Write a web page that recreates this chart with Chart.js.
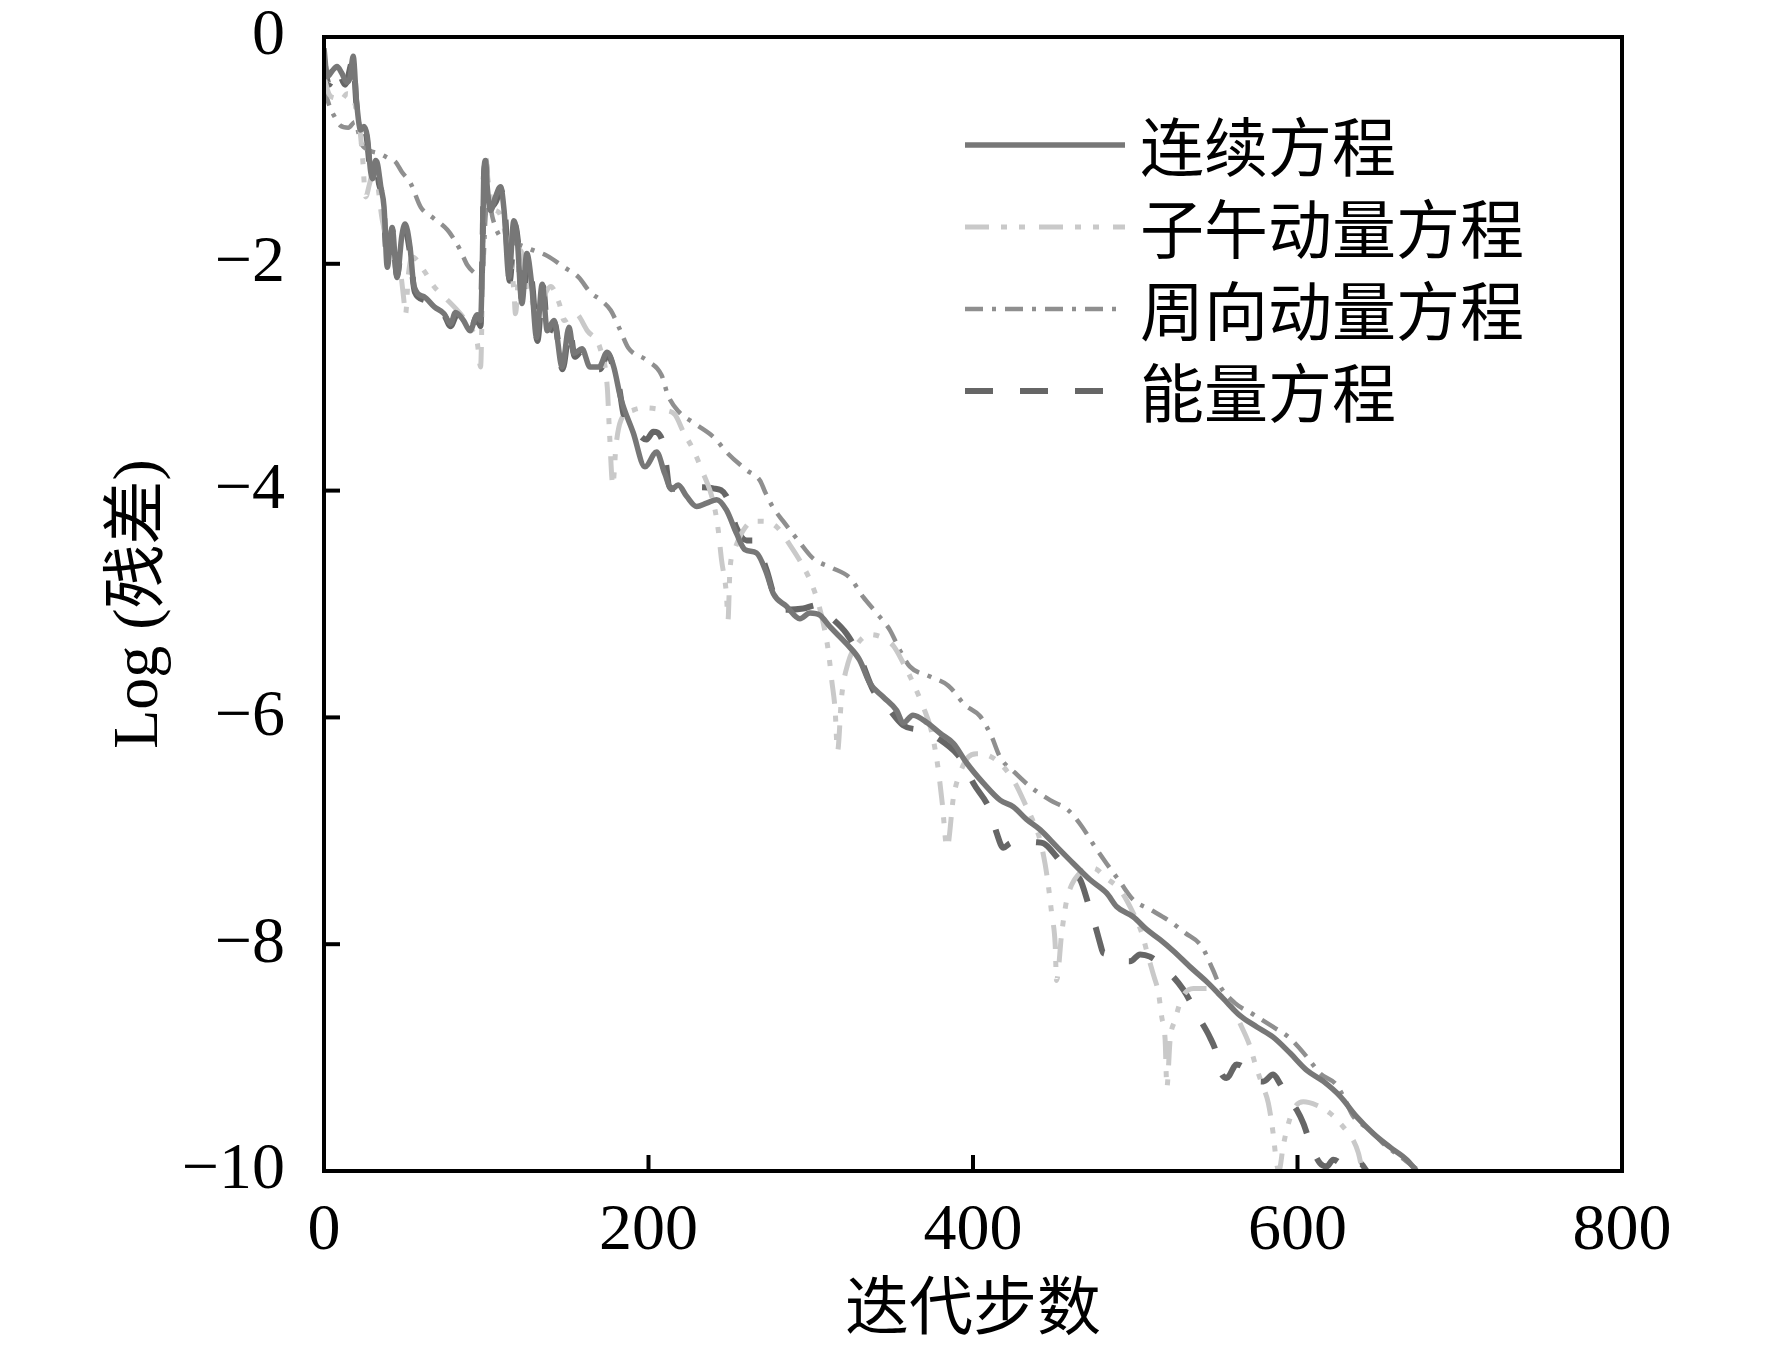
<!DOCTYPE html>
<html>
<head>
<meta charset="utf-8">
<script src="https://cdn.jsdelivr.net/npm/chart.js@4.4.1/dist/chart.umd.min.js"></script>
<style>
  html, body { margin: 0; padding: 0; background: #fff; }
</style>
</head>
<body>
<canvas id="myChart" width="1772" height="1347"></canvas>
<script>
// series names
const seriesNames = ['连续方程', '子午动量方程', '周向动量方程', '能量方程'];

// [iteration, log residual]
const contPts = [[0,-0.1],[2,-0.35],[5,-0.3],[8,-0.26],[11,-0.32],[14,-0.4],[16,-0.36],[18,-0.17],[20,-0.56],[22.6,-0.82],[24.6,-0.79],[26.7,-0.88],[28.7,-1.18],[30,-1.25],[31.8,-1.09],[33,-1.12],[35,-1.32],[37,-1.5],[39,-2.03],[42,-1.68],[45,-2.12],[48,-1.75],[50,-1.65],[53,-1.85],[55.5,-2.2],[61.6,-2.29],[68,-2.38],[74,-2.44],[78,-2.53],[81,-2.43],[86,-2.5],[90,-2.59],[94.5,-2.45],[96.5,-2.5],[97.5,-2.06],[98.6,-1.18],[99.6,-1.09],[100.6,-1.32],[102.7,-1.53],[105.7,-1.41],[108.8,-1.32],[111,-1.53],[114,-2.12],[117,-1.62],[119,-1.76],[122,-2.35],[125,-1.91],[128,-2.18],[131,-2.65],[134.5,-2.18],[137.6,-2.59],[141.7,-2.5],[146.8,-2.91],[151,-2.56],[154,-2.79],[159,-2.75],[164,-2.91],[169.5,-2.91],[174.5,-2.78],[178.6,-2.91],[182.8,-3.18],[190.6,-3.49],[197.8,-3.79],[205,-3.66],[210,-3.85],[214.3,-3.99],[218.3,-3.95],[223.5,-4.05],[229.7,-4.14],[235.8,-4.11],[242,-4.08],[248,-4.17],[254.3,-4.38],[259.4,-4.52],[266.6,-4.55],[272.8,-4.73],[277,-4.91],[285,-5.02],[293.3,-5.13],[299.5,-5.08],[305.7,-5.1],[311.8,-5.2],[322,-5.35],[330,-5.49],[336.5,-5.7],[344.7,-5.82],[353,-5.94],[357,-6.05],[363,-5.98],[372,-6.05],[379.7,-6.14],[388,-6.23],[396,-6.4],[406.4,-6.58],[416.7,-6.73],[425,-6.79],[433,-6.9],[441.3,-6.99],[451.6,-7.14],[462,-7.29],[472,-7.43],[482.4,-7.55],[488.6,-7.67],[498.9,-7.76],[507,-7.87],[515.3,-7.96],[523.5,-8.06],[533.8,-8.2],[544,-8.33],[554.3,-8.48],[564.6,-8.63],[575,-8.73],[585,-8.82],[595.4,-8.96],[605.6,-9.11],[616,-9.21],[626.2,-9.34],[636.4,-9.52],[646.7,-9.67],[657,-9.79],[667.3,-9.9],[673.4,-10]];

const merPts = [[0,-0.35],[3,-0.5],[6.8,-0.54],[10,-0.56],[14.4,-0.5],[18,-0.55],[21.6,-0.76],[23.6,-1.03],[25.7,-1.41],[28,-1.3],[31,-1.15],[36,-1.62],[41,-1.88],[47,-2.06],[49,-2.29],[50.3,-2.44],[52,-2.1],[54.4,-1.94],[61.6,-2.06],[67.8,-2.2],[74,-2.29],[84,-2.44],[90,-2.56],[94.5,-2.7],[96.5,-2.91],[98.6,-1.3],[99.6,-1.03],[101,-1.25],[104,-1.5],[108,-1.55],[112,-1.75],[115,-2.0],[117,-2.23],[118,-2.44],[121,-1.88],[126,-2.2],[131,-2.41],[135,-2.3],[139.7,-2.2],[145,-2.35],[148,-2.5],[155,-2.44],[162.3,-2.59],[170.5,-2.76],[174.6,-3.09],[176,-3.5],[178,-3.95],[180,-3.6],[183,-3.38],[190.6,-3.29],[196.8,-3.27],[209,-3.29],[216.3,-3.33],[221.4,-3.48],[227.6,-3.64],[233.8,-3.85],[237.9,-4.0],[241,-4.17],[243,-4.35],[245,-4.61],[248,-4.91],[249,-5.14],[250.2,-4.7],[253.3,-4.51],[258.4,-4.35],[264.6,-4.27],[270.7,-4.27],[279,-4.32],[287.2,-4.48],[295.4,-4.67],[300.5,-4.82],[304.6,-4.99],[307.7,-5.17],[310.8,-5.41],[312.9,-5.67],[315,-5.93],[316.5,-6.3],[319,-5.82],[323,-5.52],[328.3,-5.36],[336.5,-5.27],[344.7,-5.3],[351,-5.37],[357,-5.52],[363.2,-5.7],[369.4,-5.91],[374,-6.1],[378,-6.4],[381,-6.75],[384,-7.15],[388,-6.7],[392,-6.49],[397,-6.35],[402.3,-6.32],[408.5,-6.33],[417.7,-6.42],[426,-6.58],[433,-6.79],[437.2,-6.92],[441.3,-7.08],[444.4,-7.29],[446.5,-7.49],[448.5,-7.73],[450.6,-7.99],[451.5,-8.32],[454.7,-7.9],[457.8,-7.61],[463,-7.42],[468,-7.35],[474.2,-7.33],[482.4,-7.42],[490.6,-7.52],[498.9,-7.73],[504,-7.9],[508,-8.11],[511,-8.26],[514.3,-8.43],[516.3,-8.64],[518.4,-8.84],[519.5,-9.26],[521.5,-8.84],[524.5,-8.67],[528.6,-8.48],[535.8,-8.39],[544,-8.39],[552.2,-8.45],[559.4,-8.55],[565.6,-8.73],[570.7,-8.9],[573.8,-9.05],[578,-9.23],[582,-9.4],[585,-9.67],[587.1,-9.93],[588.5,-10],[591.2,-9.78],[593.3,-9.64],[597.4,-9.46],[603.6,-9.39],[611.8,-9.42],[620,-9.49],[628.2,-9.61],[634.4,-9.73],[637.5,-9.84],[640,-10]];

const cirPts = [[0,-0.45],[3.7,-0.62],[6.8,-0.71],[10,-0.78],[15,-0.8],[19,-0.75],[23,-0.94],[28,-1.0],[34.5,-1.03],[40,-1.07],[44,-1.1],[48,-1.19],[53.4,-1.29],[59.6,-1.5],[66.8,-1.59],[76,-1.7],[80,-1.78],[84,-1.88],[88.3,-2.01],[94.5,-2.1],[97.6,-2.12],[99.5,-1.6],[101,-1.4],[104,-1.6],[108,-1.75],[113,-1.8],[118,-1.82],[127,-1.87],[137.6,-1.93],[148,-2.03],[157,-2.12],[164,-2.25],[170.5,-2.32],[176.7,-2.41],[182.4,-2.58],[187.5,-2.74],[198.8,-2.85],[208,-2.98],[212,-3.16],[218.4,-3.3],[228.6,-3.41],[241,-3.54],[248,-3.66],[260.5,-3.82],[268.7,-3.91],[271.8,-4.01],[276,-4.13],[283,-4.27],[292.3,-4.44],[301.6,-4.6],[312.9,-4.68],[324.2,-4.77],[332.4,-4.94],[340.6,-5.08],[348.8,-5.23],[355,-5.41],[361,-5.55],[373.5,-5.64],[384.8,-5.72],[395,-5.89],[404.4,-5.99],[411.5,-6.17],[416.7,-6.35],[426,-6.49],[435.2,-6.61],[447.5,-6.73],[458.8,-6.82],[467,-6.96],[474.2,-7.12],[482.4,-7.29],[490.6,-7.45],[498.9,-7.61],[510,-7.7],[521.5,-7.8],[530.7,-7.9],[541,-8.02],[548,-8.23],[552.3,-8.37],[561.5,-8.52],[572.8,-8.62],[585,-8.73],[595.4,-8.83],[605.6,-8.99],[614,-9.14],[624,-9.24],[629.2,-9.37],[634.4,-9.52],[644.7,-9.64],[653,-9.76],[663,-9.87],[671.4,-9.96],[675,-10]];

const engPts = [[0,-0.2],[3,-0.42],[8,-0.28],[13,-0.42],[18,-0.2],[20,-0.6],[23,-0.8],[26,-0.86],[29,-1.2],[31.5,-1.1],[34,-1.3],[36.5,-1.45],[39,-2.0],[42,-1.7],[45,-2.1],[48,-1.8],[50,-1.7],[53,-1.9],[56,-2.25],[62,-2.32],[68,-2.4],[74,-2.45],[78,-2.55],[82,-2.45],[86,-2.52],[90,-2.6],[94,-2.47],[96.5,-2.55],[97.5,-2.0],[98.6,-1.22],[99.8,-1.12],[101,-1.35],[103,-1.5],[106,-1.45],[109,-1.35],[111.5,-1.55],[114.5,-2.15],[117.5,-1.65],[119.5,-1.8],[122.5,-2.38],[125.5,-1.95],[128.5,-2.2],[131.5,-2.68],[135,-2.2],[138,-2.62],[142,-2.52],[147,-2.93],[151.5,-2.58],[154.5,-2.82],[159,-2.77],[164.5,-2.93],[170,-2.93],[175,-2.8],[179,-2.95],[182,-3.1],[184.5,-3.32],[191,-3.45],[198.8,-3.55],[203,-3.48],[209,-3.58],[213.2,-3.97],[220,-3.99],[230,-3.97],[240,-3.98],[248,-4.05],[254,-4.32],[260.5,-4.44],[264.6,-4.44],[272.8,-4.7],[277,-4.91],[281,-5.05],[285,-5.05],[295.4,-5.04],[303.6,-5.01],[311.8,-5.11],[322,-5.26],[330,-5.46],[338.5,-5.76],[346.8,-5.9],[357,-6.07],[370,-6.12],[380,-6.2],[390,-6.32],[394,-6.4],[400.2,-6.58],[410.5,-6.82],[414.6,-7.02],[418.7,-7.15],[422.8,-7.11],[431,-7.08],[438.3,-7.1],[443.4,-7.11],[451.6,-7.23],[459.8,-7.37],[466,-7.43],[471,-7.64],[475.2,-7.83],[478.3,-7.99],[480.4,-8.08],[486.5,-8.09],[492.7,-8.15],[496.8,-8.15],[503,-8.09],[509,-8.11],[517.3,-8.2],[529.6,-8.4],[538.9,-8.64],[546,-8.82],[550,-8.96],[552.2,-9.11],[556.3,-9.18],[562.5,-9.06],[568.6,-9.11],[572.7,-9.2],[579,-9.21],[585,-9.15],[589.2,-9.23],[593.3,-9.34],[599.5,-9.46],[603.6,-9.58],[608.7,-9.79],[613.8,-9.93],[618,-9.96],[622,-9.9],[626,-9.93],[630,-9.99],[634,-9.97],[638.5,-9.93],[642.6,-10]];

const xTicks = [0, 200, 400, 600, 800];
const yTicks = [0, -2, -4, -6, -8, -10];

const numFont = "'Liberation Serif', 'Noto Sans CJK SC', serif";
const toXY = pts => pts.map(p => ({ x: p[0], y: p[1] }));

// box around the plot + inward ticks
const frameTicks = {
  id: 'frameTicks',
  afterDatasetsDraw(chart) {
    const { ctx, chartArea: a, scales: { x, y } } = chart;
    ctx.save();
    ctx.strokeStyle = '#000';
    ctx.lineWidth = 4;
    ctx.strokeRect(a.left, a.top, a.right - a.left, a.bottom - a.top);
    xTicks.slice(1, -1).forEach(v => {
      const px = x.getPixelForValue(v);
      ctx.beginPath(); ctx.moveTo(px, a.bottom); ctx.lineTo(px, a.bottom - 16); ctx.stroke();
    });
    yTicks.slice(1, -1).forEach(v => {
      const py = y.getPixelForValue(v);
      ctx.beginPath(); ctx.moveTo(a.left, py); ctx.lineTo(a.left + 16, py); ctx.stroke();
    });
    ctx.restore();
  }
};

// legend inside the plot, top right
const innerLegend = {
  id: 'innerLegend',
  afterDraw(chart) {
    const { ctx } = chart;
    ctx.save();
    chart.data.datasets.forEach((ds, i) => {
      const yy = 145 + i * 82;
      ctx.strokeStyle = ds.borderColor;
      ctx.lineWidth = ds.borderWidth;
      ctx.setLineDash(ds.borderDash || []);
      ctx.beginPath(); ctx.moveTo(965, yy); ctx.lineTo(1125, yy); ctx.stroke();
      ctx.setLineDash([]);
      ctx.fillStyle = '#000';
      ctx.font = "64px 'Noto Sans CJK SC', 'Liberation Serif'";
      ctx.textBaseline = 'middle';
      ctx.textAlign = 'left';
      ctx.fillText(ds.label, 1140, yy + 2);
    });
    ctx.restore();
  }
};

const data = {
  datasets: [
    { label: seriesNames[0], data: toXY(contPts), borderColor: '#777777', borderWidth: 5.5 },
    { label: seriesNames[1], data: toXY(merPts), borderColor: '#c9c9c9', borderWidth: 5, borderDash: [24, 12, 6, 12, 6, 14] },
    { label: seriesNames[2], data: toXY(cirPts), borderColor: '#8f8f8f', borderWidth: 4.5, borderDash: [18, 9, 4, 9] },
    { label: seriesNames[3], data: toXY(engPts), borderColor: '#666666', borderWidth: 6, borderDash: [28, 27] }
  ]
};
data.datasets.forEach(ds => {
  ds.pointRadius = 0;
  ds.fill = false;
  ds.cubicInterpolationMode = 'monotone';
});

const config = {
  type: 'line',
  data: data,
  options: {
    responsive: false,
    animation: false,
    devicePixelRatio: 1,
    layout: { padding: { top: 37, right: 150, bottom: 0, left: 0 } },
    plugins: { legend: { display: false }, tooltip: { enabled: false } },
    scales: {
      x: {
        type: 'linear', min: 0, max: 800,
        grid: { display: false }, border: { display: false },
        afterBuildTicks: s => { s.ticks = xTicks.map(v => ({ value: v })); },
        ticks: { color: '#000', padding: 20, maxRotation: 0, font: { family: numFont, size: 66, lineHeight: 1 } },
        title: { display: true, text: '迭代步数', color: '#000', padding: { top: 0, bottom: 10 },
                 font: { family: "'Noto Sans CJK SC', 'Liberation Serif'", size: 64, lineHeight: 1 } },
        afterFit: s => { s.height = 176; s.paddingLeft = 0; s.paddingRight = 0; }
      },
      y: {
        type: 'linear', min: -10, max: 0,
        grid: { display: false }, border: { display: false },
        afterBuildTicks: s => { s.ticks = yTicks.map(v => ({ value: v })); },
        ticks: { color: '#000', padding: 31, font: { family: numFont, size: 66, lineHeight: 1 },
                 callback: v => String(v).replace('-', '\u2212') },
        title: { display: true, text: 'Log (残差)', color: '#000', padding: { top: 108, bottom: 0 },
                 font: { family: numFont, size: 64, lineHeight: 1 } },
        afterFit: s => { s.width = 324; s.paddingTop = 0; s.paddingBottom = 0; }
      }
    }
  },
  plugins: [frameTicks, innerLegend]
};

const ctx = document.getElementById('myChart').getContext('2d');
const myChart = new Chart(ctx, config);
</script>
</body>
</html>
